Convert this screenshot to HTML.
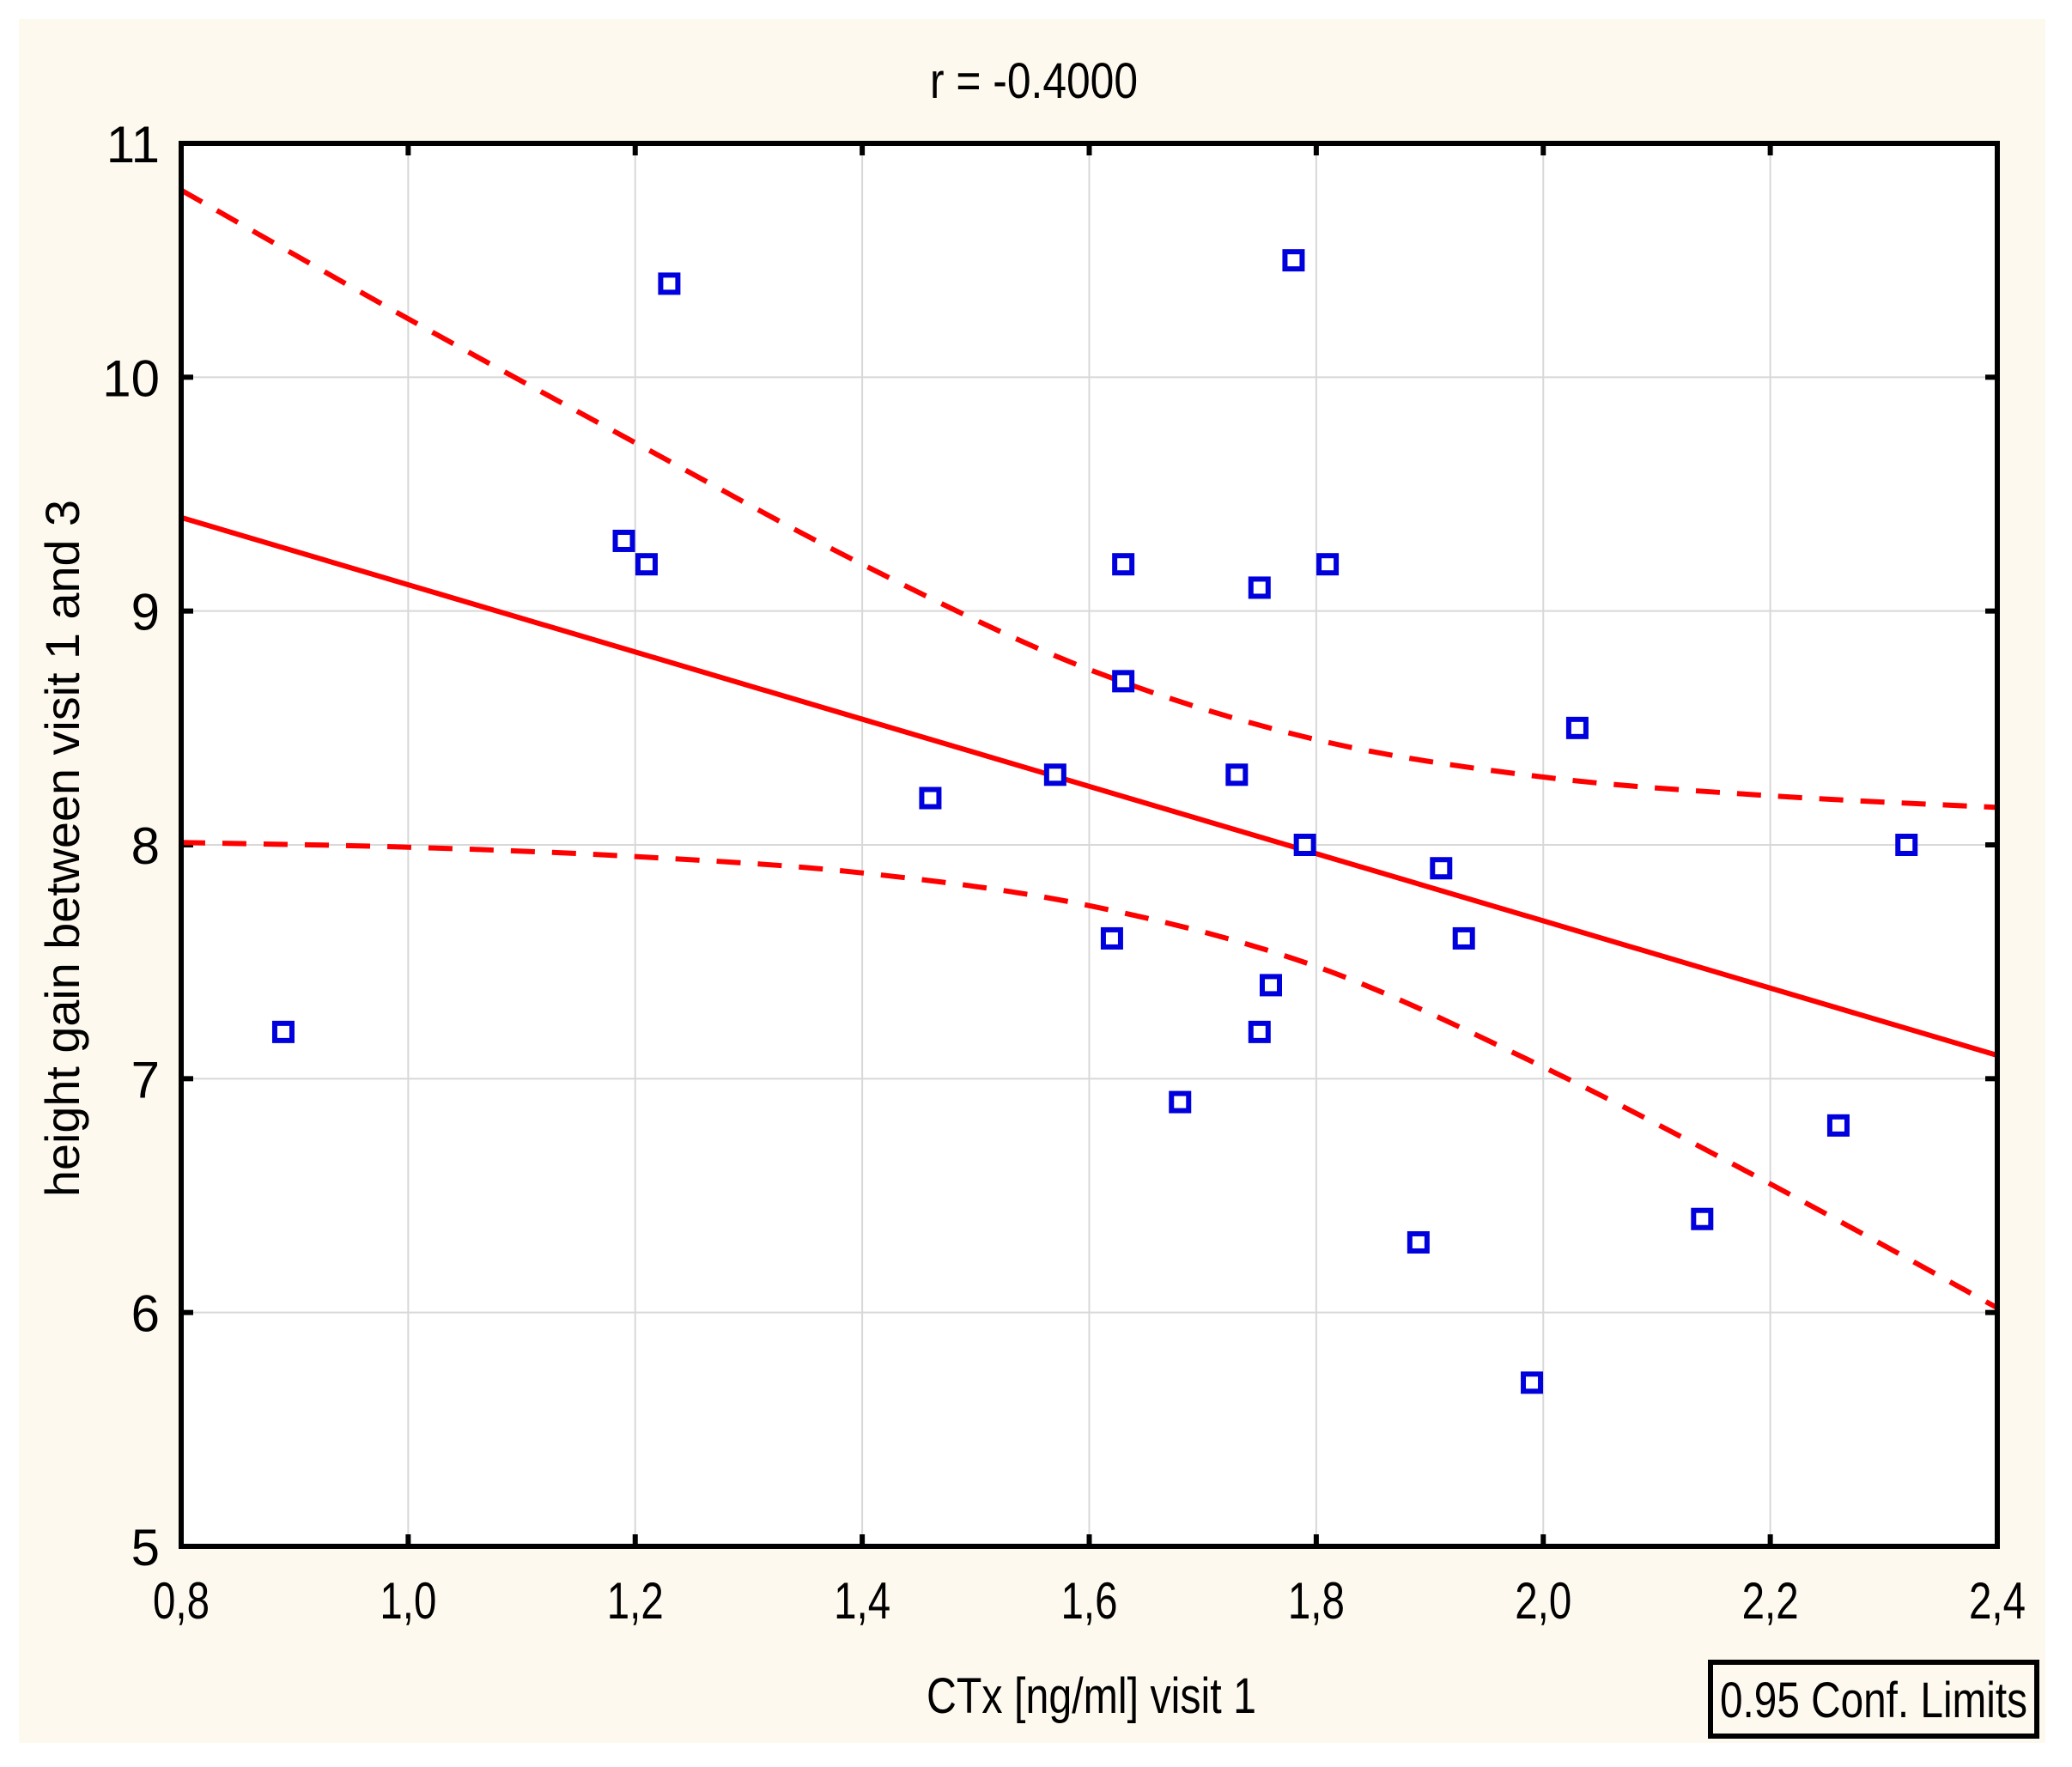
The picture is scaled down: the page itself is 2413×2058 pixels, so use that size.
<!DOCTYPE html>
<html><head><meta charset="utf-8"><style>
html,body{margin:0;padding:0;background:#fff;}
svg{display:block;font-family:"Liberation Sans",Arial,sans-serif;}
</style></head><body>
<svg id="chart" width="2413" height="2058" viewBox="0 0 2413 2058" xmlns="http://www.w3.org/2000/svg">
<rect x="22" y="22" width="2360" height="2008" fill="#fef9ee"/>
<rect x="211" y="167" width="2115" height="1634" fill="#fff"/>
<g id="grid"></g>
<g id="ticks"></g>
<g id="series"></g>
<rect x="211" y="167" width="2115" height="1634" fill="none" stroke="#000" stroke-width="6"/>
<text x="1204" y="114" font-size="58" text-anchor="middle" textLength="242" lengthAdjust="spacingAndGlyphs">r = -0.4000</text>
<text x="1271" y="1995" font-size="58" text-anchor="middle" textLength="384" lengthAdjust="spacingAndGlyphs">CTx [ng/ml] visit 1</text>
<text transform="translate(92,988) rotate(-90)" font-size="56" text-anchor="middle" textLength="812" lengthAdjust="spacingAndGlyphs">height gain between visit 1 and 3</text>
<g>
<rect x="1992" y="1936" width="380" height="86" fill="#fef9ee" stroke="#000" stroke-width="6"/>
<text x="2003" y="2000" font-size="58" textLength="358" lengthAdjust="spacingAndGlyphs">0.95 Conf. Limits</text>
</g>
</svg>
<script>
const xTicks=[0.8,1.0,1.2,1.4,1.6,1.8,2.0,2.2,2.4];
const xTickLabels=["0,8","1,0","1,2","1,4","1,6","1,8","2,0","2,2","2,4"];
const yTicks=[5,6,7,8,9,10,11];
const yTickLabels=["5","6","7","8","9","10","11"];
const ptX=[0.89,1.19,1.21,1.23,1.46,1.57,1.62,1.63,1.63,1.68,1.73,1.75,1.75,1.76,1.78,1.79,1.81,1.89,1.91,1.93,1.99,2.03,2.14,2.26,2.32];
const ptY=[7.2,9.3,9.2,10.4,8.2,8.3,7.6,9.2,8.7,6.9,8.3,9.1,7.2,7.4,10.5,8.0,9.2,6.3,7.9,7.6,5.7,8.5,6.4,6.8,8.0];
const fitX=[0.8,2.4];
const fitY=[9.4,7.1];
const ciX=[0.8,1.0,1.2,1.4,1.6,1.8,2.0,2.2,2.4];
const ciUpper=[10.8,10.25,9.72,9.2,8.75,8.45,8.29,8.21,8.16];
const ciLower=[8.01,7.99,7.95,7.88,7.74,7.48,7.05,6.55,6.02];

const NS="http://www.w3.org/2000/svg";
const L=211,R=2326,T=167,B=1801;
const sx=v=>L+(v-0.8)/(2.4-0.8)*(R-L);
const sy=v=>B-(v-5)/(11-5)*(B-T);
function mk(tag,attrs,parent){const e=document.createElementNS(NS,tag);for(const k in attrs)e.setAttribute(k,attrs[k]);parent.appendChild(e);return e;}
const grid=document.getElementById('grid'),ticks=document.getElementById('ticks'),series=document.getElementById('series'),svg=document.getElementById('chart');
xTicks.forEach((v,i)=>{
  const x=sx(v);
  if(i>0&&i<xTicks.length-1){
    const g=mk('line',{x1:x,y1:T,x2:x,y2:B,stroke:'#d8d8d8','stroke-width':2},grid);
    
    
    const t1=mk('line',{x1:x,y1:B,x2:x,y2:B-14,stroke:'#000','stroke-width':6},ticks);
    
    
    const t2=mk('line',{x1:x,y1:T,x2:x,y2:T+14,stroke:'#000','stroke-width':6},ticks);
    
    
  }
  const lb=mk('text',{x:x,y:1885,'font-size':60,'text-anchor':'middle',textLength:66,lengthAdjust:'spacingAndGlyphs'},svg);
  lb.textContent=xTickLabels[i];
  
  
});
yTicks.forEach((v,i)=>{
  const y=sy(v);
  if(i>0&&i<yTicks.length-1){
    const g=mk('line',{x1:L,y1:y,x2:R,y2:y,stroke:'#d8d8d8','stroke-width':2},grid);
    
    
    const t1=mk('line',{x1:L,y1:y,x2:L+14,y2:y,stroke:'#000','stroke-width':6},ticks);
    
    
    const t2=mk('line',{x1:R,y1:y,x2:R-14,y2:y,stroke:'#000','stroke-width':6},ticks);
    
    
  }
  const lb=mk('text',{x:186,y:y+22,'font-size':60,'text-anchor':'end'},svg);
  lb.textContent=yTickLabels[i];
  
  
});
function smooth(xs,ys){
  const p=xs.map((v,i)=>[sx(v),sy(ys[i])]);
  let d='M'+p[0][0]+','+p[0][1];
  for(let i=0;i<p.length-1;i++){
    const p0=p[Math.max(0,i-1)],p1=p[i],p2=p[i+1],p3=p[Math.min(p.length-1,i+2)];
    const c1=[p1[0]+(p2[0]-p0[0])/6,p1[1]+(p2[1]-p0[1])/6];
    const c2=[p2[0]-(p3[0]-p1[0])/6,p2[1]-(p3[1]-p1[1])/6];
    d+=' C'+c1[0]+','+c1[1]+' '+c2[0]+','+c2[1]+' '+p2[0]+','+p2[1];
  }
  return d;
}
const up=mk('path',{d:smooth(ciX,ciUpper),fill:'none',stroke:'#ff0000','stroke-width':6,'stroke-dasharray':'28 20'},series);


const lo=mk('path',{d:smooth(ciX,ciLower),fill:'none',stroke:'#ff0000','stroke-width':6,'stroke-dasharray':'28 20'},series);


const fl=mk('line',{x1:sx(fitX[0]),y1:sy(fitY[0]),x2:sx(fitX[1]),y2:sy(fitY[1]),stroke:'#ff0000','stroke-width':6},series);


ptX.forEach((v,i)=>{
  const r=mk('rect',{x:sx(v)-10,y:sy(ptY[i])-10,width:20,height:20,fill:'#fff',stroke:'#0000dd','stroke-width':6},series);
  
  
});
</script>
</body></html>
